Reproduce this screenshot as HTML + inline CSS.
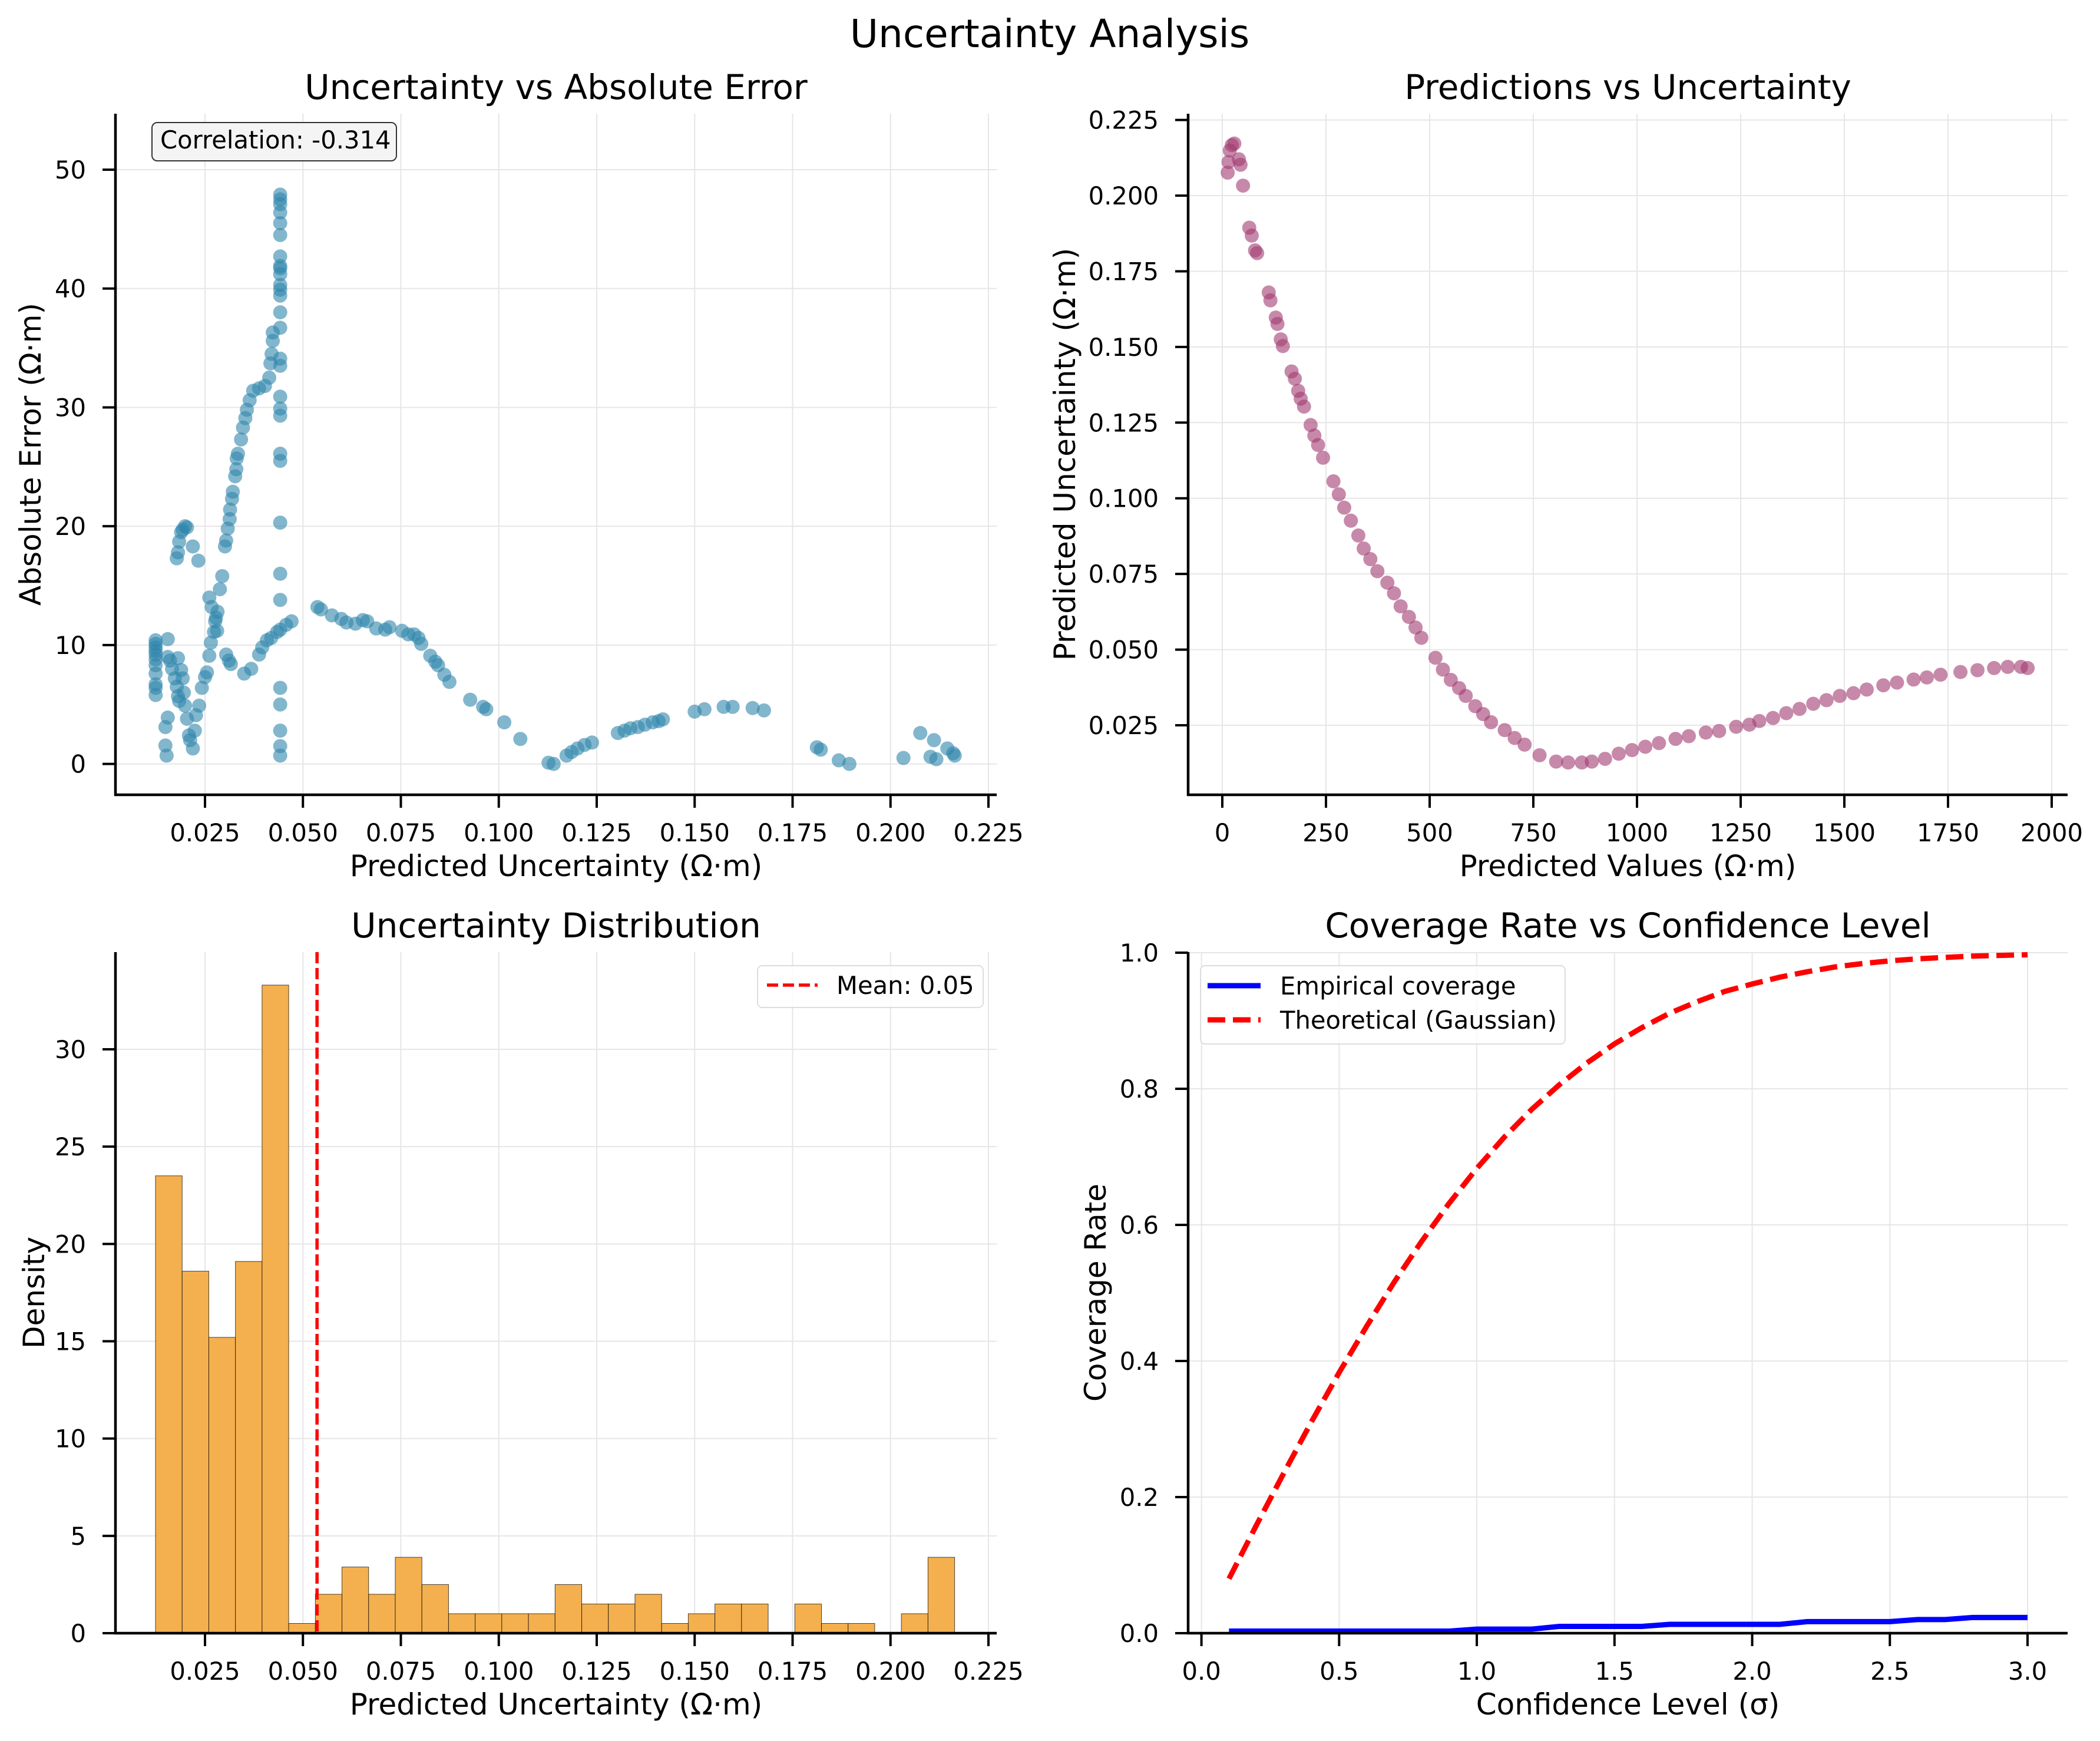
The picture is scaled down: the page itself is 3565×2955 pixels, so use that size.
<!DOCTYPE html>
<html><head><meta charset="utf-8"><style>
html,body{margin:0;padding:0;background:#fff;}
svg{display:block;font-family:"DejaVu Sans","Liberation Sans",sans-serif;}
</style></head><body>
<svg id="fig" width="3565" height="2955" viewBox="0 0 3565 2955" xmlns="http://www.w3.org/2000/svg">
<rect width="3565" height="2955" fill="#fff"/>
<text x="1782" y="80" font-size="66" text-anchor="middle">Uncertainty Analysis</text>
<g id="g1"></g>
<g id="g2"></g>
<g id="g3"></g>
<g id="g4"></g>
</svg>
<script>
// ---- Panel 1 data: uncertainty vs absolute error ----
const errUnc = [0.0124,0.0124,0.0124,0.0124,0.0124,0.0124,0.0124,0.0124,0.0124,0.0124,0.0124,0.0149,0.0149,0.0152,0.0155,0.0155,0.0155,
0.0161,0.0166,0.0173,0.0178,0.0181,0.0184,
0.0178,0.0181,0.0184,0.0189,0.0193,0.0199,0.0204,0.0219,0.0233,
0.0181,0.0189,0.0193,0.0196,0.0199,0.0204,0.0209,0.0212,0.0219,0.0224,0.0227,0.0235,0.0242,0.025,0.0255,
0.0261,0.0265,0.0273,0.0278,0.0282,0.0288,0.0294,0.0261,0.0267,0.0276,0.0281,
0.0304,0.0311,0.0316,0.035,0.0368,0.0388,0.0396,0.0408,0.0419,0.0434,0.0442,0.0457,0.0471,
0.0301,0.0304,0.0308,0.0313,0.0314,0.0319,0.0321,0.0327,0.033,0.0331,0.0334,0.0342,0.0347,0.0353,0.0357,0.0364,0.0373,0.0388,0.0403,0.0414,0.0417,0.042,0.0423,0.0423,
0.0442,0.0442,0.0442,0.0442,0.0442,0.0442,0.0442,0.0442,0.0442,0.0442,0.0442,0.0442,0.0442,0.0442,0.0442,0.0442,0.0442,0.0442,0.0442,0.0442,0.0442,0.0442,0.0442,0.0442,0.0442,0.0442,0.0442,0.0442,0.0442,0.0442,
0.0537,0.0546,0.0574,0.0598,0.0611,0.0634,0.0653,0.0664,0.0687,0.071,0.0721,0.0753,0.0769,0.0784,0.0795,0.0802,0.0825,0.0838,0.0845,0.0861,0.0874,0.0927,0.096,0.0968,0.1014,0.1055,
0.1127,0.114,0.1173,0.1186,0.1201,0.1219,0.1238,0.1304,0.1321,0.1336,0.1355,0.1373,0.1393,0.1408,0.1419,0.15,0.1525,0.1574,0.1597,0.1648,0.1677,
0.1812,0.1822,0.1868,0.1895,0.2033,0.2076,0.2111,0.2102,0.2117,0.2145,0.216,0.2164];
const errAbs = [10.4,10.1,9.8,9.5,9.2,8.8,8.3,7.6,6.7,6.4,5.8,3.1,1.55,0.7,10.5,9.0,3.9,
8.7,8.0,7.2,6.5,5.7,5.3,
17.3,17.8,18.7,19.5,19.7,20.0,19.9,18.3,17.1,
8.9,7.9,7.2,6.0,4.9,3.8,2.4,2.0,1.3,2.8,4.1,4.9,6.4,7.3,7.7,
9.1,10.2,11.1,12.3,12.8,14.7,15.8,14.0,13.2,12.0,11.2,
9.2,8.7,8.4,7.6,8.0,9.2,9.8,10.4,10.6,11.1,11.3,11.7,12.0,
18.3,18.8,19.8,20.6,21.4,22.3,22.9,24.2,24.8,25.7,26.1,27.3,28.3,29.1,29.8,30.6,31.4,31.6,31.8,32.5,33.7,34.5,35.6,36.3,
47.9,47.5,47.1,46.4,45.5,44.5,42.7,41.9,41.7,41.2,40.3,39.9,39.4,38.0,36.7,34.1,33.5,30.9,29.9,29.3,26.1,25.5,20.3,16.0,13.8,6.4,5.0,2.8,1.5,0.7,
13.2,13.0,12.5,12.2,11.9,11.8,12.1,12.0,11.4,11.3,11.5,11.2,10.9,10.9,10.6,10.1,9.1,8.6,8.3,7.5,6.9,5.4,4.8,4.6,3.5,2.1,
0.1,0.0,0.7,1.0,1.3,1.6,1.8,2.6,2.8,3.0,3.1,3.3,3.5,3.6,3.75,4.4,4.6,4.8,4.8,4.7,4.5,
1.4,1.2,0.3,0.0,0.5,2.6,2.0,0.6,0.4,1.3,0.9,0.7];
const p1XTicks = [0.025,0.05,0.075,0.1,0.125,0.15,0.175,0.2,0.225];
const p1XLabels = ["0.025","0.050","0.075","0.100","0.125","0.150","0.175","0.200","0.225"];
const p1YTicks = [0,10,20,30,40,50];

// ---- Panel 2 data: predictions vs uncertainty ----
const predVals = [13,15,18,23,29,40,44,50,65,71,79,84,112,116,129,133,141,146,167,175,183,189,197,213,222,231,243,268,281,294,310,328,341,357,374,398,414,430,450,466,480,514,532,551,571,587,610,629,648,681,705,729,765,805,834,867,891,923,956,988,1020,1053,1093,1125,1166,1198,1239,1271,1295,1328,1360,1392,1425,1457,1489,1522,1554,1594,1627,1667,1699,1732,1780,1821,1861,1894,1926,1942];
const predUnc = [0.2076,0.2111,0.2149,0.2167,0.2172,0.212,0.2102,0.2033,0.1894,0.1868,0.1819,0.181,0.168,0.1654,0.1597,0.1576,0.1525,0.1503,0.1419,0.1395,0.1355,0.1329,0.1303,0.1242,0.1207,0.1176,0.1134,0.1056,0.1013,0.0969,0.0926,0.0877,0.0834,0.0799,0.0759,0.0721,0.0686,0.0643,0.0608,0.0573,0.0539,0.0473,0.0434,0.04,0.0373,0.0347,0.0313,0.0287,0.026,0.0234,0.0208,0.0186,0.0151,0.013,0.0127,0.0127,0.013,0.0139,0.0156,0.0168,0.0179,0.0191,0.0205,0.0214,0.0226,0.0231,0.0245,0.0252,0.0264,0.0274,0.029,0.0304,0.0321,0.0333,0.0347,0.0356,0.0368,0.0382,0.0391,0.0401,0.0408,0.0417,0.0426,0.0432,0.0439,0.0443,0.0443,0.0439];
const p2XTicks = [0,250,500,750,1000,1250,1500,1750,2000];
const p2YTicks = [0.025,0.05,0.075,0.1,0.125,0.15,0.175,0.2,0.225];
const p2YLabels = ["0.025","0.050","0.075","0.100","0.125","0.150","0.175","0.200","0.225"];

// ---- Panel 3 data: histogram ----
const binStart = 0.01237;
const binWidth = 0.0068;
const densities = [23.5,18.6,15.2,19.1,33.3,0.5,2.0,3.4,2.0,3.9,2.5,1.0,1.0,1.0,1.0,2.5,1.5,1.5,2.0,0.5,1.0,1.5,1.5,0,1.5,0.5,0.5,0,1.0,3.9];
const meanUnc = 0.0536;
const p3YTicks = [0,5,10,15,20,25,30];

// ---- Panel 4 data: coverage ----
const confLevels = [0.1,0.2,0.3,0.4,0.5,0.6,0.7,0.8,0.9,1.0,1.1,1.2,1.3,1.4,1.5,1.6,1.7,1.8,1.9,2.0,2.1,2.2,2.3,2.4,2.5,2.6,2.7,2.8,2.9,3.0];
const empirical = [0.003,0.003,0.003,0.003,0.003,0.003,0.003,0.003,0.003,0.006,0.006,0.006,0.010,0.010,0.010,0.010,0.013,0.013,0.013,0.013,0.013,0.017,0.017,0.017,0.017,0.020,0.020,0.023,0.023,0.023];
const theoretical = [0.080,0.159,0.236,0.311,0.383,0.451,0.516,0.576,0.632,0.683,0.729,0.770,0.806,0.838,0.866,0.890,0.911,0.928,0.943,0.954,0.964,0.972,0.979,0.984,0.988,0.991,0.993,0.995,0.996,0.997];
const p4XTicks = [0,0.5,1,1.5,2,2.5,3];
const p4XLabels = ["0.0","0.5","1.0","1.5","2.0","2.5","3.0"];
const p4YTicks = [0,0.2,0.4,0.6,0.8,1.0];
const p4YLabels = ["0.0","0.2","0.4","0.6","0.8","1.0"];

const NS = "http://www.w3.org/2000/svg";
function mk(parent, tag, attrs, text){
  const e = document.createElementNS(NS, tag);
  for (const k in attrs) e.setAttribute(k, attrs[k]);
  if (text !== undefined) e.textContent = text;
  parent.appendChild(e);
  return e;
}
function lin(d0,d1,r0,r1){ return v => r0 + (v-d0)*(r1-r0)/(d1-d0); }

function axes(g, box, sx, sy, xt, xl, yt, yl, title, xlabel, ylabel, ylabX){
  xt.forEach((v,i)=>{ const l = mk(g,'line',{x1:sx(v),x2:sx(v),y1:box.t,y2:box.b,stroke:'#e6e6e6','stroke-width':2});
      });
  yt.forEach((v,i)=>{ const l = mk(g,'line',{x1:box.l,x2:box.r,y1:sy(v),y2:sy(v),stroke:'#e6e6e6','stroke-width':2});
      });
  const t = mk(g,'text',{x:(box.l+box.r)/2,y:box.t-25,'font-size':58,'text-anchor':'middle'},title);
   
  const xa = mk(g,'text',{x:(box.l+box.r)/2,y:box.b+138,'font-size':50,'text-anchor':'middle'},xlabel);
   
  const ya = mk(g,'text',{x:ylabX,y:(box.t+box.b)/2,'font-size':50,'text-anchor':'middle',transform:`rotate(-90 ${ylabX} ${(box.t+box.b)/2})`,'dominant-baseline':'central'},ylabel);
   
}
function frame(g, box, sx, sy, xt, xl, yt, yl){
  const s1 = mk(g,'line',{x1:box.l,x2:box.l,y1:box.t,y2:box.b+2,stroke:'#000','stroke-width':4.5});
   
  const s2 = mk(g,'line',{x1:box.l-2,x2:box.r,y1:box.b,y2:box.b,stroke:'#000','stroke-width':4.5});
   
  xt.forEach((v,i)=>{
    const tk = mk(g,'line',{x1:sx(v),x2:sx(v),y1:box.b,y2:box.b+22,stroke:'#000','stroke-width':4});
     
    const lb = mk(g,'text',{x:sx(v),y:box.b+79,'font-size':41.7,'text-anchor':'middle'},xl[i]);
     
  });
  yt.forEach((v,i)=>{
    const tk = mk(g,'line',{x1:box.l-22,x2:box.l,y1:sy(v),y2:sy(v),stroke:'#000','stroke-width':4});
     
    const lb = mk(g,'text',{x:box.l-50,y:sy(v)+15,'font-size':41.7,'text-anchor':'end'},yl[i]);
     
  });
}

// Panel 1
(function(){
  const g = document.getElementById('g1');
  const box = {l:196,r:1692,t:193,b:1349};
  const sx = lin(0.025,0.225,348,1678);
  const sy = lin(0,50,1296.6,288);
  axes(g,box,sx,sy,p1XTicks,p1XLabels,p1YTicks,p1YTicks.map(String),'Uncertainty vs Absolute Error','Predicted Uncertainty (Ω·m)','Absolute Error (Ω·m)',52);
  errUnc.forEach((u,i)=>{
    const c = mk(g,'circle',{cx:sx(u),cy:sy(errAbs[i]),r:12,fill:'#2e86ab','fill-opacity':0.6});
     
  });
  frame(g,box,sx,sy,p1XTicks,p1XLabels,p1YTicks,p1YTicks.map(String));
  const bx = mk(g,'rect',{x:258,y:208,width:415,height:65,rx:9,fill:'#f4f4f4',stroke:'#333','stroke-width':2});
   
  const tx = mk(g,'text',{x:272,y:252,'font-size':41.7},'Correlation: -0.314');
   
})();

// Panel 2
(function(){
  const g = document.getElementById('g2');
  const box = {l:2017,r:3510,t:193,b:1349};
  const sx = lin(0,2000,2075,3483);
  const sy = lin(0.025,0.225,1231,203.6);
  axes(g,box,sx,sy,p2XTicks,p2XTicks.map(String),p2YTicks,p2YLabels,'Predictions vs Uncertainty','Predicted Values (Ω·m)','Predicted Uncertainty (Ω·m)',1808);
  predVals.forEach((p,i)=>{
    const c = mk(g,'circle',{cx:sx(p),cy:sy(predUnc[i]),r:12,fill:'#a23b72','fill-opacity':0.6});
     
  });
  frame(g,box,sx,sy,p2XTicks,p2XTicks.map(String),p2YTicks,p2YLabels);
})();

// Panel 3
(function(){
  const g = document.getElementById('g3');
  const box = {l:196,r:1692,t:1616,b:2772};
  const sx = lin(0.025,0.225,348,1678);
  const sy = lin(0,30,2772,1781);
  axes(g,box,sx,sy,p1XTicks,p1XLabels,p3YTicks,p3YTicks.map(String),'Uncertainty Distribution','Predicted Uncertainty (Ω·m)','Density',58);
  densities.forEach((d,i)=>{
    const x0 = sx(binStart + i*binWidth), x1 = sx(binStart + (i+1)*binWidth);
    const r = mk(g,'rect',{x:x0,y:sy(d),width:x1-x0,height:sy(0)-sy(d),fill:'#f4b04e',stroke:'#000','stroke-width':1,'stroke-opacity':0.7});
     
  });
  const m = mk(g,'line',{x1:sx(meanUnc),x2:sx(meanUnc),y1:box.t,y2:box.b,stroke:'#ff0000','stroke-width':5.5,'stroke-dasharray':'19 8'});
   
  frame(g,box,sx,sy,p1XTicks,p1XLabels,p3YTicks,p3YTicks.map(String));
  const lg = mk(g,'g',{});
   
  mk(lg,'rect',{x:1286,y:1639,width:383,height:71,rx:8,fill:'#fff','fill-opacity':0.8,stroke:'#ddd','stroke-width':2});
  mk(lg,'line',{x1:1302,x2:1388,y1:1672,y2:1672,stroke:'#ff0000','stroke-width':5.5,'stroke-dasharray':'19 8'});
  const lt = mk(lg,'text',{x:1420,y:1687,'font-size':41.7},'Mean: 0.05');
   
})();

// Panel 4
(function(){
  const g = document.getElementById('g4');
  const box = {l:2017,r:3510,t:1616,b:2772};
  const sx = lin(0,3,2039.6,3442);
  const sy = lin(0,1,2772,1617);
  axes(g,box,sx,sy,p4XTicks,p4XLabels,p4YTicks,p4YLabels,'Coverage Rate vs Confidence Level','Confidence Level (σ)','Coverage Rate',1860);
  const pe = confLevels.map((c,i)=>sx(c)+','+sy(empirical[i])).join(' ');
  const l1 = mk(g,'polyline',{points:pe,fill:'none',stroke:'#0000ff','stroke-width':9});
   
  const pt = confLevels.map((c,i)=>sx(c)+','+sy(theoretical[i])).join(' ');
  const l2 = mk(g,'polyline',{points:pt,fill:'none',stroke:'#ff0000','stroke-width':9,'stroke-dasharray':'30 13'});
   
  frame(g,box,sx,sy,p4XTicks,p4XLabels,p4YTicks,p4YLabels);
  const lg = mk(g,'g',{});
   
  mk(lg,'rect',{x:2038,y:1639,width:619,height:133,rx:8,fill:'#fff','fill-opacity':0.8,stroke:'#ddd','stroke-width':2});
  mk(lg,'line',{x1:2050,x2:2140,y1:1673,y2:1673,stroke:'#0000ff','stroke-width':9});
  const t1 = mk(lg,'text',{x:2173,y:1688,'font-size':41.7},'Empirical coverage');
   
  mk(lg,'line',{x1:2050,x2:2140,y1:1731,y2:1731,stroke:'#ff0000','stroke-width':9,'stroke-dasharray':'30 13'});
  const t2 = mk(lg,'text',{x:2173,y:1746,'font-size':41.7},'Theoretical (Gaussian)');
   
})();
</script>
</body></html>
